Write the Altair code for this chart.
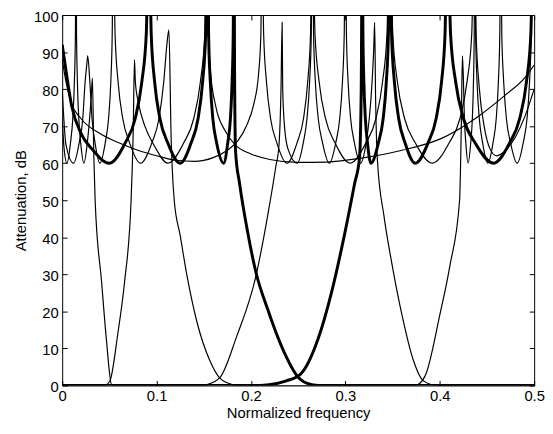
import altair as alt
import pandas as pd

# Thick half-band highpass (passband 0.25-0.5)
THP_F = [0, 0.004, 0.010, 0.020, 0.031, 0.050, 0.0668, 0.0773, 0.0844, 0.0891, 0.092,
         0.0943, 0.0979, 0.1036, 0.1118, 0.125, 0.1366, 0.1439, 0.1488, 0.152, 0.154,
         0.1551, 0.1569, 0.1596, 0.1636, 0.171, 0.1754, 0.1782, 0.1800, 0.1812, 0.182,
         0.1826, 0.1837, 0.188, 0.1967, 0.2053, 0.2175, 0.2332, 0.2505, 0.2645, 0.272, 0.5]
THP_DB = [92, 85, 75.5, 68, 64, 60, 65.5, 72, 82, 95, 130,
          95, 82, 72, 65.5, 60, 65.5, 72, 82, 95, 130,
          95, 82, 72, 65.5, 60, 65.5, 72, 82, 95, 130,
          85, 63, 54.4, 41.1, 30.5, 20.7, 10.1, 2.1, 0.2, 0, 0]

# Thick half-band lowpass (passband 0-0.25)
TLP_F = [0, 0.21, 0.219, 0.2366, 0.2523, 0.2714, 0.2854, 0.2993, 0.3097, 0.315, 0.3168, 0.318,
         0.3186, 0.3196, 0.3212, 0.3234, 0.327, 0.335, 0.340, 0.3434, 0.3456, 0.347,
         0.3489, 0.3519, 0.3565, 0.3632, 0.374, 0.3876, 0.3961, 0.4019, 0.4056, 0.408,
         0.4114, 0.4168, 0.4252, 0.4374, 0.457, 0.474, 0.4846, 0.4919, 0.4965, 0.4995, 0.5]
TLP_DB = [0, 0, 0.2, 1.2, 3, 12.8, 25.2, 41, 54.4, 61.5, 80, 130,
          95, 82, 72, 65.5, 60, 65.5, 72, 82, 95, 130,
          95, 82, 72, 65.5, 60, 65.5, 72, 82, 95, 130,
          95, 82, 72, 65.5, 60, 65.5, 72, 82, 95, 130, 120]

# Thin lowpass (passband 0-0.05)
F1_F = [0, 0.045, 0.0505, 0.0592, 0.066, 0.073, 0.0752, 0.0766,
        0.0775, 0.081, 0.0876, 0.097, 0.112,
        0.1288, 0.1393, 0.1464, 0.1511, 0.154,
        0.1551, 0.157, 0.163, 0.172, 0.183,
        0.2, 0.22, 0.25, 0.28, 0.32,
        0.36, 0.40, 0.44, 0.47, 0.49, 0.5]
F1_DB = [0, 0, 1.2, 14.5, 27.8, 50, 68, 88,
         82, 76, 70, 65, 60,
         65.5, 72, 82, 95, 130,
         95, 85, 75, 69, 65,
         62.5, 61, 60.2, 60.3, 61.5,
         63.5, 66.5, 72.5, 78.5, 83, 86.5]

# Thin bandpass (passband 0.05-0.165)
F2_F = [0, 0.002, 0.005, 0.0088, 0.0112, 0.0129, 0.014, 0.0146,
        0.0152, 0.0161, 0.0176, 0.0196, 0.023, 0.0266, 0.029, 0.0308, 0.032,
        0.0335, 0.0349, 0.0418, 0.047, 0.0522, 0.056, 0.150, 0.153, 0.167, 0.1845,
        0.2053, 0.2175, 0.2262, 0.2297, 0.2318, 0.233,
        0.2336, 0.2355, 0.239, 0.249, 0.2554, 0.2593, 0.2621, 0.2639, 0.265,
        0.2678, 0.2722, 0.279, 0.289, 0.305, 0.3218, 0.3323, 0.3394, 0.3441, 0.347,
        0.3502, 0.3551, 0.3628, 0.374, 0.392, 0.41, 0.4213, 0.4289, 0.4339, 0.437,
        0.4385, 0.442, 0.447, 0.453, 0.46, 0.47, 0.48, 0.49, 0.5]
F2_DB = [72, 64, 60, 65.5, 72, 82, 95, 130,
         95, 82, 72, 65.5, 60, 65.5, 72, 78, 83,
         62, 50, 27.8, 11.9, 0.3, 0, 0, 0.2, 2.1, 13,
         29.6, 45.6, 58.9, 65, 80, 98,
         80, 70, 64, 60, 65.5, 72, 82, 95, 130,
         95, 82, 72, 65.5, 60, 65.5, 72, 82, 95, 130,
         95, 82, 72, 65.5, 60, 65.5, 72, 82, 95, 130,
         95, 80, 70, 64, 62, 63.5, 67, 72.5, 80]

# Thin bandpass (passband 0.165-0.385)
F3_F = [0, 0.004, 0.012, 0.018, 0.0218, 0.0243, 0.0262, 0.027,
        0.0293, 0.0316, 0.0348, 0.040, 0.0456, 0.0491, 0.0515, 0.053, 0.054,
        0.056, 0.0592, 0.0642, 0.0714, 0.083, 0.095, 0.1025, 0.1076, 0.1109, 0.113,
        0.1155, 0.1165, 0.1187, 0.125, 0.1323, 0.1427, 0.1566, 0.167, 0.181, 0.186,
        0.370, 0.374, 0.3845, 0.400, 0.4107, 0.421, 0.4228, 0.424,
        0.4251, 0.4261, 0.4276, 0.430, 0.4328, 0.4345, 0.4357, 0.4365, 0.437,
        0.438, 0.4395, 0.4419, 0.4454, 0.451, 0.4564, 0.4598, 0.4621, 0.4636, 0.4645,
        0.4657, 0.4677, 0.4706, 0.475, 0.482, 0.4884, 0.4924, 0.4951, 0.4969, 0.498, 0.5]
F3_DB = [80, 65, 60, 65.5, 72, 82, 87, 89,
         82, 72, 65.5, 60, 65.5, 72, 82, 95, 130,
         95, 82, 72, 65.5, 60, 65.5, 72, 82, 92, 96,
         66, 59, 50, 40.5, 29.5, 17.2, 6.6, 2, 0.2, 0,
         0, 0, 2.6, 19, 32.3, 50, 70, 89,
         82, 72, 65.5, 60, 65.5, 72, 82, 95, 130,
         95, 82, 72, 65.5, 60, 65.5, 72, 82, 95, 130,
         95, 82, 72, 65.5, 60, 65.5, 72, 82, 95, 130, 110]

# Thin highpass (passband 0.385-0.5)
F4_F = [0, 0.004, 0.01, 0.02, 0.04, 0.06, 0.08, 0.10, 0.12, 0.14, 0.16, 0.175, 0.186,
        0.195, 0.203, 0.208, 0.2105, 0.2116,
        0.2134, 0.2164, 0.2208, 0.2274, 0.238, 0.2488, 0.2556, 0.2601, 0.2631, 0.265,
        0.2663, 0.2682, 0.2713, 0.2758, 0.283, 0.2898, 0.294, 0.2969, 0.2988, 0.300,
        0.3011, 0.3029, 0.3056, 0.3096, 0.316, 0.322, 0.3253, 0.3283, 0.3302, 0.331,
        0.332, 0.334, 0.341, 0.3497, 0.360, 0.3723, 0.3828, 0.397, 0.5]
F4_DB = [88, 82, 76, 72, 68, 65.5, 63.5, 62, 60.8, 60.5, 61.5, 63.5, 66,
         70, 76, 84, 95, 130,
         95, 82, 72, 65.5, 60, 65.5, 72, 82, 95, 130,
         95, 82, 72, 65.5, 60, 65.5, 72, 82, 95, 130,
         95, 82, 72, 65.5, 60, 65.5, 72, 82, 92, 98,
         78, 60.6, 45.6, 32.3, 19, 6.6, 1.2, 0, 0]

X_TICKS = [0, 0.1, 0.2, 0.3, 0.4, 0.5]
Y_TICKS = [0, 10, 20, 30, 40, 50, 60, 70, 80, 90, 100]

curves = [
    ("f1", F1_F, F1_DB, 1.2),
    ("f2", F2_F, F2_DB, 1.2),
    ("f3", F3_F, F3_DB, 1.2),
    ("f4", F4_F, F4_DB, 1.2),
    ("thp", THP_F, THP_DB, 3.0),
    ("tlp", TLP_F, TLP_DB, 3.0),
]
rows = []
for name, fs, dbs, w in curves:
    for i, (f, d) in enumerate(zip(fs, dbs)):
        rows.append({"curve": name, "f": f, "db": d, "w": w, "i": i})
df = pd.DataFrame(rows)

FONT = "Liberation Sans"
xscale = alt.Scale(domain=[0, 0.5], nice=False, zero=False)
yscale = alt.Scale(domain=[0, 100], nice=False, zero=False)

common_axis = dict(domain=False, grid=False, tickSize=5, offset=-5, tickColor="black",
                   tickWidth=1, labelFont=FONT, labelFontSize=15, labelColor="black",
                   titleFont=FONT, titleFontSize=15, titleFontWeight="normal",
                   titleColor="black", labelFlush=False)

lines = alt.Chart(df).mark_line(clip=True, interpolate="monotone", color="black").encode(
    x=alt.X("f:Q", scale=xscale,
            axis=alt.Axis(orient="bottom", values=X_TICKS, format="~g",
                          title="Normalized frequency", labelPadding=3, titlePadding=2,
                          **common_axis)),
    y=alt.Y("db:Q", scale=yscale,
            axis=alt.Axis(orient="left", values=Y_TICKS, title="Attenuation, dB",
                          labelPadding=4, titlePadding=5, labelOffset=1.5, **common_axis)),
    detail="curve:N",
    strokeWidth=alt.StrokeWidth("w:Q", scale=None),
    order="i:Q",
)

ghost = alt.Chart(df).mark_point(opacity=0).encode(
    x=alt.X("f:Q", scale=xscale,
            axis=alt.Axis(orient="top", values=X_TICKS, labels=False, title=None,
                          **common_axis)),
    y=alt.Y("db:Q", scale=yscale,
            axis=alt.Axis(orient="right", values=Y_TICKS, labels=False, title=None,
                          **common_axis)),
)

chart = alt.layer(lines, ghost).resolve_axis(x="independent", y="independent").properties(
    width=479, height=376,
    padding={"left": 55, "top": 4, "right": 11, "bottom": 38},
    autosize=alt.AutoSizeParams(type="none"),
    background="white",
).configure_view(stroke="black", strokeWidth=1)

chart.save("out.html", embed_options={"renderer": "svg", "actions": False})
